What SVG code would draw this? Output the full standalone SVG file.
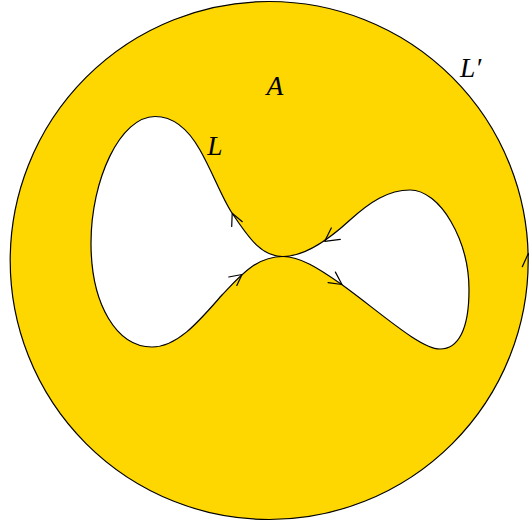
<svg xmlns="http://www.w3.org/2000/svg" width="529" height="523" viewBox="0 0 529 523">
<style>
.ln{fill:none;stroke:#000;stroke-width:1.2;stroke-linecap:round;stroke-linejoin:round}
.lbl{font-family:"Liberation Serif","Times New Roman",serif;font-style:italic;font-size:27.5px;fill:#000}
</style>
<rect width="529" height="523" fill="#fff"/>
<g id="region-A">
<circle cx="269.2" cy="260.5" r="259" fill="#FFD700" stroke="#000" stroke-width="1.2"/>
</g>
<g id="hole-L">
<path fill="#fff" stroke="#000" stroke-width="1.2" d="M283 256.5 C262 256.5 250 240 232 213 C222 198 213 173 200 150 C187 127 172 116.5 155 116.5 C120 116.5 91 180 91 243 C91 305 117 347 152 347 C178 347 200 320 222 295 C240 276 256 256.5 283 256.5 C300 256.5 318 268 341 284 C380 312 420 349 440 349 C458 349 469 330 469 290 C469 240 440 190 410 190 C388 190 370 202 350 220 C325 243 303 256.5 283 256.5 Z"/>
</g>
<g id="connectors">
<path class="ln" d="M231.7 226.5 L232.2 213.3 L242.3 221.7"/>
<path class="ln" d="M331.3 228 L324.7 241.3 L340.3 239.3"/>
<path class="ln" d="M228.7 277 L242 274.5 L236.8 285.5"/>
<path class="ln" d="M335.4 272.1 L342 284.5 L328.1 282.6"/>
<path class="ln" d="M522.3 266.7 L528.3 253.5 L534.3 266.7"/>
</g>
<g id="labels">
<text class="lbl" x="275" y="94.5" text-anchor="middle">A</text>
<text class="lbl" x="215" y="155" text-anchor="middle">L</text>
<text class="lbl" x="460" y="77">L′</text>
</g>
</svg>
